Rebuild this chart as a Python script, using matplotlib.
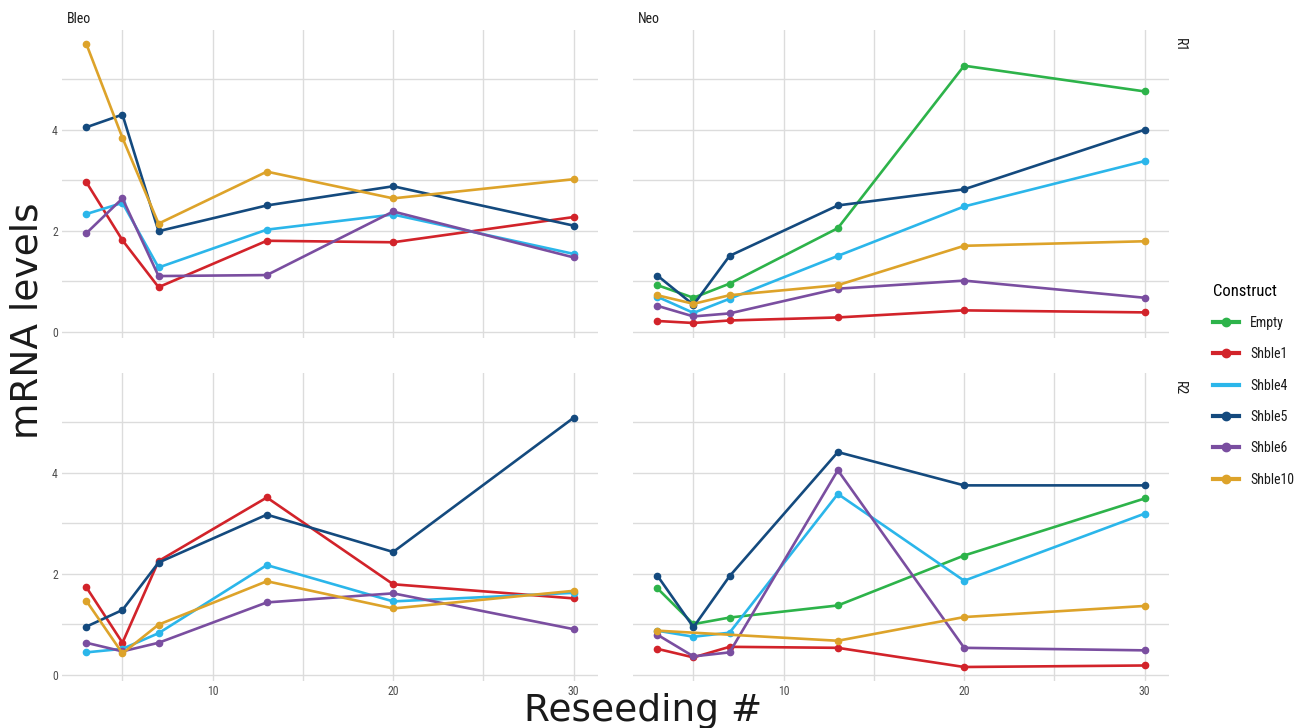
import matplotlib
matplotlib.use("Agg")
import matplotlib.pyplot as plt
from matplotlib.lines import Line2D
from matplotlib import font_manager
import numpy as np

# reseeding rounds
reseeding = [3, 5, 7, 13, 20, 30]

constructs = ["Empty", "Shble1", "Shble4", "Shble5", "Shble6", "Shble10"]
colors = ["#2DB34A", "#D2232A", "#2BB6EA", "#144A7E", "#7A4EA0", "#DDA32A"]

# mRNA levels, one list per construct (None = no measurement)
bleo_r1_shble1 = [2.96, 1.81, 0.88, 1.80, 1.77, 2.27]
bleo_r1_shble4 = [2.33, 2.55, 1.27, 2.02, 2.32, 1.54]
bleo_r1_shble5 = [4.05, 4.30, 1.99, 2.50, 2.88, 2.10]
bleo_r1_shble6 = [1.95, 2.64, 1.10, 1.12, 2.38, 1.47]
bleo_r1_shble10 = [5.70, 3.84, 2.14, 3.17, 2.64, 3.02]

neo_r1_empty = [0.92, 0.67, 0.95, 2.05, 5.27, 4.76]
neo_r1_shble1 = [0.21, 0.17, 0.22, 0.28, 0.42, 0.38]
neo_r1_shble4 = [0.69, 0.37, 0.65, 1.50, 2.48, 3.38]
neo_r1_shble5 = [1.11, 0.53, 1.50, 2.50, 2.82, 4.00]
neo_r1_shble6 = [0.51, 0.30, 0.36, 0.85, 1.01, 0.67]
neo_r1_shble10 = [0.72, 0.55, 0.72, 0.92, 1.70, 1.79]

bleo_r2_shble1 = [1.73, 0.63, 2.25, 3.51, 1.79, 1.51]
bleo_r2_shble4 = [0.44, 0.51, 0.82, 2.17, 1.45, 1.62]
bleo_r2_shble5 = [0.95, 1.28, 2.22, 3.17, 2.43, 5.09]
bleo_r2_shble6 = [0.63, 0.46, 0.63, 1.43, 1.61, 0.90]
bleo_r2_shble10 = [1.46, 0.42, 0.99, 1.85, 1.31, 1.66]

neo_r2_empty = [1.71, 1.00, 1.13, 1.37, 2.36, 3.49]
neo_r2_shble1 = [0.51, 0.34, 0.55, 0.53, 0.15, 0.18]
neo_r2_shble4 = [0.87, 0.75, 0.83, 3.58, 1.86, 3.19]
neo_r2_shble5 = [1.96, 0.94, 1.95, 4.41, 3.75, 3.75]
neo_r2_shble6 = [0.79, 0.36, 0.44, 4.05, 0.53, 0.48]
neo_r2_shble10 = [0.87, None, None, 0.67, 1.14, 1.36]

panels = {
    ("Bleo", "R1"): {"Shble1": bleo_r1_shble1, "Shble4": bleo_r1_shble4,
                     "Shble5": bleo_r1_shble5, "Shble6": bleo_r1_shble6,
                     "Shble10": bleo_r1_shble10},
    ("Neo", "R1"): {"Empty": neo_r1_empty, "Shble1": neo_r1_shble1,
                    "Shble4": neo_r1_shble4, "Shble5": neo_r1_shble5,
                    "Shble6": neo_r1_shble6, "Shble10": neo_r1_shble10},
    ("Bleo", "R2"): {"Shble1": bleo_r2_shble1, "Shble4": bleo_r2_shble4,
                     "Shble5": bleo_r2_shble5, "Shble6": bleo_r2_shble6,
                     "Shble10": bleo_r2_shble10},
    ("Neo", "R2"): {"Empty": neo_r2_empty, "Shble1": neo_r2_shble1,
                    "Shble4": neo_r2_shble4, "Shble5": neo_r2_shble5,
                    "Shble6": neo_r2_shble6, "Shble10": neo_r2_shble10},
}

# pick a narrow font for ticks / strips / legend if one is installed
installed = {f.name for f in font_manager.fontManager.ttflist}
narrow = "DejaVu Sans"
for cand in ["Roboto Condensed", "Liberation Sans Narrow", "Open Sans Condensed", "Roboto"]:
    if cand in installed:
        narrow = cand
        break
stretch = "normal" if narrow != "DejaVu Sans" else "condensed"

grid_col = "#DCDCDC"
W, H = 1298, 728

fig = plt.figure(figsize=(W / 100, H / 100), dpi=100)

# shared y range with ggplot-like 5% expansion
allv = [v for d in panels.values() for s in d.values() for v in s if v is not None]
ymin, ymax = min(allv), max(allv)
pad = (ymax - ymin) * 0.05
xpad = (max(reseeding) - min(reseeding)) * 0.05

lefts = {"Bleo": 62, "Neo": 633}
tops = {"R1": 30, "R2": 373}
pw, ph = 536, 308

for (col, row), series in panels.items():
    ax = fig.add_axes([lefts[col] / W, 1 - (tops[row] + ph) / H, pw / W, ph / H])
    for name, c in zip(constructs, colors):
        if name not in series:
            continue
        pts = [(x, y) for x, y in zip(reseeding, series[name]) if y is not None]
        xs, ys = zip(*pts)
        ax.plot(xs, ys, color=c, lw=1.9, marker="o", ms=4.5, zorder=3)
    ax.set_xlim(min(reseeding) - xpad, max(reseeding) + xpad)
    ax.set_ylim(ymin - pad, ymax + pad)
    ax.set_xticks([10, 20, 30])
    ax.set_xticks([5, 15, 25], minor=True)
    ax.set_yticks([0, 2, 4])
    ax.set_yticks([1, 3, 5], minor=True)
    ax.grid(True, which="both", color=grid_col, lw=1.0)
    ax.set_axisbelow(True)
    for s in ax.spines.values():
        s.set_visible(False)
    ax.tick_params(which="both", length=0, labelsize=8.5, labelcolor="#4D4D4D", pad=3)
    for lab in ax.get_xticklabels() + ax.get_yticklabels():
        lab.set_family(narrow)
        lab.set_stretch(stretch)
    if row == "R1":
        ax.set_xticklabels([])
    if col == "Neo":
        ax.set_yticklabels([])
    if row == "R1":
        ax.text(0.01, 1 + 11 / ph, col, transform=ax.transAxes, fontsize=10,
                family=narrow, stretch=stretch, color="#1A1A1A",
                ha="left", va="center")
    if col == "Neo":
        ax.text(1.0 + 11 / pw, 0.975, row, transform=ax.transAxes, fontsize=10,
                family=narrow, stretch=stretch, color="#1A1A1A", rotation=-90,
                ha="center", va="top")

fig.text(28 / W, 1 - 321 / H, "mRNA levels", rotation=90, fontsize=27,
         ha="center", va="center", color="#1A1A1A")
fig.text(643 / W, 1 - 711 / H, "Reseeding #", fontsize=27,
         ha="center", va="center", color="#1A1A1A")

handles = []
for name, c in zip(constructs, colors):
    mk = None if name == "Shble4" else "o"
    handles.append(Line2D([], [], color=c, lw=3, marker=mk, ms=6))
leg = fig.legend(handles, constructs, loc="upper left",
                 bbox_to_anchor=(1200 / W, 1 - 271 / H), frameon=False,
                 title="Construct", handlelength=1.9, labelspacing=1.25,
                 prop={"family": narrow, "size": 10, "stretch": stretch,
                       "weight": "normal"})
for t in leg.get_texts():
    t.set_color("#1A1A1A")
leg.get_title().set_fontsize(12)
leg.get_title().set_family(narrow)
leg.get_title().set_stretch(stretch)
leg.get_title().set_weight("normal")
leg._legend_box.align = "left"

fig.savefig("out.png", dpi=100)
